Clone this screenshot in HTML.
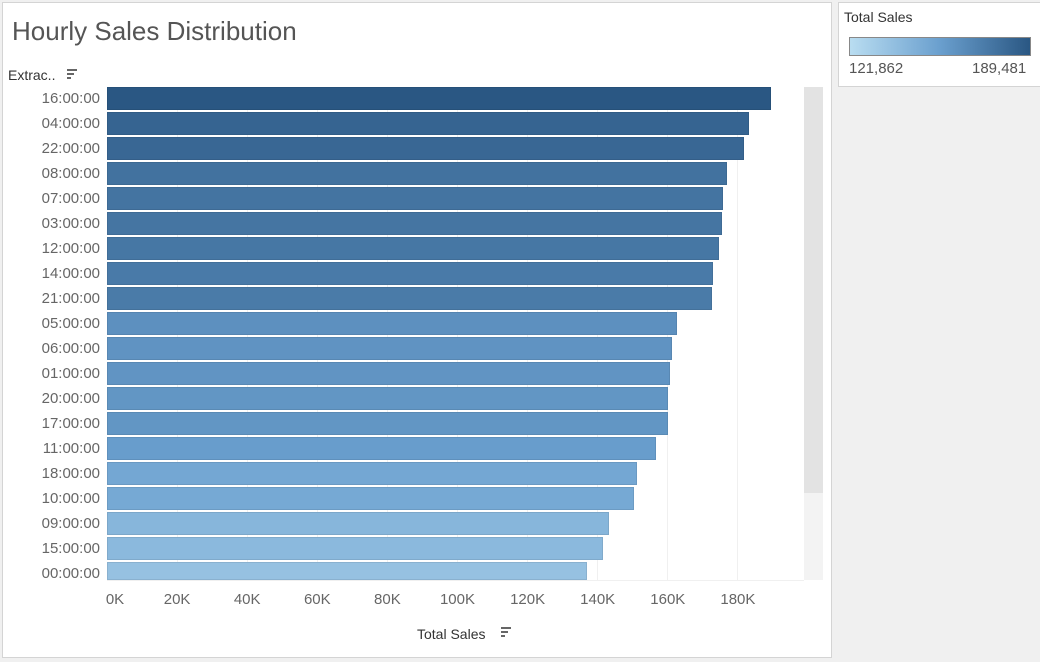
<!DOCTYPE html>
<html><head><meta charset="utf-8">
<style>
body{margin:0;width:1040px;height:662px;background:#f0f0f0;position:relative;overflow:hidden;font-family:"Liberation Sans",sans-serif;}
#panel{position:absolute;left:2px;top:2px;width:828px;height:654px;background:#fff;border:1px solid #d4d4d4;}
#legend{position:absolute;left:838px;top:2px;width:201px;height:83px;background:#fff;border:1px solid #d4d4d4;}
.a{position:absolute;}
</style></head><body>
<div id="panel"></div>
<div id="legend"></div>
<div class="a" style="left:12px;top:16px;font-size:26px;color:#555;">Hourly Sales Distribution</div>
<div class="a" style="left:8px;top:67px;font-size:14px;color:#333;">Extrac..</div>
<div class="a" style="left:67px;top:69px;width:10px;height:2px;background:#666"></div>
<div class="a" style="left:67px;top:73px;width:7px;height:2px;background:#666"></div>
<div class="a" style="left:67px;top:77px;width:4px;height:2px;background:#666"></div>
<div class="a" style="left:804px;top:87px;width:19px;height:493px;background:#f3f3f3"></div>
<div class="a" style="left:804px;top:87px;width:19px;height:406px;background:#e3e3e3"></div>
<div id="chart"></div>
<div class="a" style="left:417px;top:626px;font-size:14px;color:#333;">Total Sales</div>
<div class="a" style="left:501px;top:627px;width:10px;height:2px;background:#666"></div>
<div class="a" style="left:501px;top:631px;width:7px;height:2px;background:#666"></div>
<div class="a" style="left:501px;top:635px;width:4px;height:2px;background:#666"></div>
<div class="a" style="left:844px;top:9px;font-size:14px;color:#333;">Total Sales</div>
<div class="a" style="left:849px;top:37px;width:180px;height:17px;border:1px solid #888;background:linear-gradient(to right,#b9ddf1,#6a9fce,#2a5783);"></div>
<div class="a" style="left:849px;top:60px;font-size:15px;color:#555;">121,862</div>
<div class="a" style="left:972px;top:60px;font-size:15px;color:#555;">189,481</div>
<script>
var labels=["16:00:00","04:00:00","22:00:00","08:00:00","07:00:00","03:00:00","12:00:00","14:00:00","21:00:00","05:00:00","06:00:00","01:00:00","20:00:00","17:00:00","11:00:00","18:00:00","10:00:00","09:00:00","15:00:00","00:00:00"];
var ends=[771,749,744,727,723,722,719,713,712,677,672,670,668,668,656,637,634,609,603,587];
var c=document.getElementById('chart'),h='';
var x0=107,k=3.505;
for(var t=0;t<=180;t+=20){var x=x0+t*k;
 if(t>0)h+='<div class="a" style="left:'+(x-0.5)+'px;top:87px;width:1px;height:493px;background:#f0f0f0"></div>';
 var lx=t==0?x0+8:x;
 h+='<div class="a" style="left:'+(lx-40)+'px;width:80px;text-align:center;top:591px;font-size:15px;color:#666">'+t+'K</div>';}
var lo=121862,hi=189481,A=[185,221,241],M=[106,159,206],B=[42,87,131];
function mix(p,q,f){return p.map(function(a,j){return Math.round(a+(q[j]-a)*f)});}
for(var i=0;i<20;i++){var y=87+i*25,v=(ends[i]-x0)/k*1000;var f=Math.max(0,Math.min(1,(v-lo)/(hi-lo)));
 var rgb=f<0.5?mix(A,M,f*2):mix(M,B,(f-0.5)*2);
 var col='rgb('+rgb.join(',')+')';
 var bh=i==19?18:23;
 h+='<div class="a" style="left:'+x0+'px;top:'+y+'px;width:'+(ends[i]-x0)+'px;height:'+bh+'px;background:'+col+';box-shadow:inset 0 0 0 1px rgba(0,0,0,0.08)"></div>';
 h+='<div class="a" style="left:0;width:100px;text-align:right;top:'+(y+3)+'px;font-size:15px;color:#666">'+labels[i]+'</div>';}
h+='<div class="a" style="left:107px;top:580px;width:697px;height:1px;background:#f0f0f0"></div>';
c.innerHTML=h;
</script>
</body></html>
